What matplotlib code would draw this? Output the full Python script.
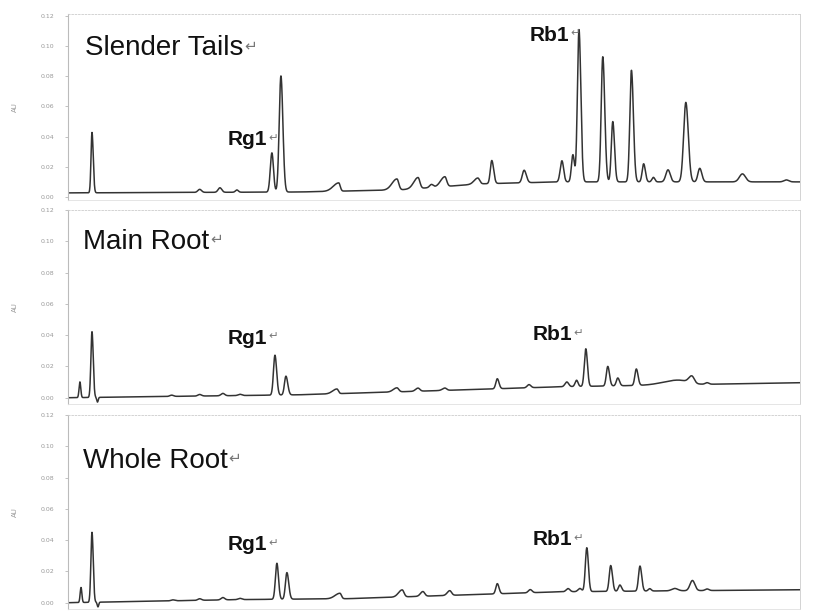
import numpy as np
import matplotlib.pyplot as plt

# ============================================================
#  HPLC chromatograms: Slender Tails / Main Root / Whole Root
# ============================================================

# retention time axis (min)
t = np.linspace(0, 60, 6000)

# --- Slender Tails: peak time, height above baseline, left/right sigma ---
st_rt = [1.97, 10.8, 12.46, 13.85, 16.72, 17.46, 22.2, 26.97, 28.7, 29.8, 30.9, 33.6, 34.75,
         37.4, 40.5, 41.4, 41.9, 43.85, 44.67, 46.2, 47.2, 48.0, 49.2, 50.66, 51.8, 55.3, 58.9]
st_h = [0.040, 0.002, 0.003, 0.0015, 0.026, 0.077, 0.0055, 0.0073, 0.0073, 0.002, 0.0065, 0.004, 0.0153,
        0.0083, 0.014, 0.018, 0.101, 0.083, 0.040, 0.074, 0.012, 0.003, 0.008, 0.0527, 0.009, 0.0053, 0.0013]
st_wl = [0.08, 0.15, 0.15, 0.12, 0.13, 0.14, 0.45, 0.40, 0.35, 0.15, 0.35, 0.30, 0.12,
         0.15, 0.14, 0.12, 0.13, 0.13, 0.12, 0.13, 0.12, 0.12, 0.18, 0.18, 0.15, 0.25, 0.20]
st_wr = [0.10, 0.15, 0.15, 0.12, 0.13, 0.16, 0.12, 0.15, 0.15, 0.15, 0.15, 0.15, 0.15,
         0.18, 0.14, 0.12, 0.15, 0.16, 0.14, 0.16, 0.14, 0.12, 0.18, 0.20, 0.17, 0.25, 0.20]
st_base_t = [0, 19, 27.2, 33.8, 40.3, 60]
st_base_v = [0.0027, 0.0033, 0.0047, 0.0087, 0.010, 0.010]

# --- Main Root ---
mr_rt = [0.98, 1.97, 2.42, 8.5, 10.8, 12.7, 14.1, 16.97, 17.87, 22.05, 26.97, 28.7, 30.9,
         35.2, 37.8, 40.9, 41.7, 42.46, 44.26, 45.08, 46.6, 50.0, 51.15, 52.4]
mr_h = [0.010, 0.042, -0.003, 0.0008, 0.001, 0.0015, 0.0008, 0.0255, 0.012, 0.003, 0.0026, 0.002, 0.0015,
        0.0064, 0.002, 0.003, 0.004, 0.024, 0.0125, 0.005, 0.0105, 0.003, 0.0045, 0.001]
mr_wl = [0.07, 0.09, 0.06, 0.15, 0.15, 0.15, 0.15, 0.12, 0.12, 0.35, 0.30, 0.20, 0.20,
         0.12, 0.15, 0.15, 0.12, 0.12, 0.12, 0.12, 0.12, 1.2, 0.25, 0.15]
mr_wr = [0.07, 0.10, 0.06, 0.15, 0.15, 0.15, 0.15, 0.14, 0.15, 0.12, 0.15, 0.15, 0.15,
         0.14, 0.15, 0.15, 0.12, 0.13, 0.14, 0.14, 0.14, 0.8, 0.20, 0.15]
mr_base_t = [0, 19, 27.2, 35.4, 40.3, 60]
mr_base_v = [0.0, 0.0019, 0.0038, 0.0058, 0.0070, 0.0096]

# --- Whole Root ---
wr_rt = [1.07, 1.97, 2.46, 8.6, 10.8, 12.7, 14.1, 17.13, 17.95, 22.3, 27.4, 29.1, 31.3,
         35.2, 37.9, 41.0, 41.97, 42.54, 44.5, 45.25, 46.9, 47.7, 49.75, 51.2, 52.4]
wr_h = [0.0096, 0.0447, -0.003, 0.0006, 0.001, 0.0015, 0.0008, 0.023, 0.017, 0.0035, 0.0045, 0.003, 0.003,
        0.0065, 0.002, 0.002, 0.002, 0.028, 0.0165, 0.004, 0.016, 0.0015, 0.0015, 0.0065, 0.001]
wr_wl = [0.07, 0.09, 0.06, 0.15, 0.15, 0.15, 0.15, 0.12, 0.12, 0.40, 0.30, 0.20, 0.20,
         0.12, 0.15, 0.15, 0.15, 0.12, 0.12, 0.12, 0.12, 0.12, 0.25, 0.20, 0.15]
wr_wr = [0.07, 0.10, 0.06, 0.15, 0.15, 0.15, 0.15, 0.13, 0.15, 0.12, 0.15, 0.15, 0.15,
         0.14, 0.15, 0.15, 0.15, 0.13, 0.14, 0.14, 0.14, 0.12, 0.25, 0.20, 0.15]
wr_base_t = [0, 14, 23, 40.3, 60]
wr_base_v = [0.0, 0.002, 0.0026, 0.007, 0.0083]

panel_names = ['Slender Tails', 'Main Root', 'Whole Root']
y_ticks = [0.00, 0.02, 0.04, 0.06, 0.08, 0.10, 0.12]


def chromatogram(rt, h, wl, wr, base_t, base_v):
    """Baseline drift plus split-gaussian peaks."""
    y = np.interp(t, base_t, base_v)
    for r, a, sl, sr in zip(rt, h, wl, wr):
        s = np.where(t < r, sl, sr)
        y = y + a * np.exp(-0.5 * ((t - r) / s) ** 2)
    return y


traces = [
    chromatogram(st_rt, st_h, st_wl, st_wr, st_base_t, st_base_v),
    chromatogram(mr_rt, mr_h, mr_wl, mr_wr, mr_base_t, mr_base_v),
    chromatogram(wr_rt, wr_h, wr_wl, wr_wr, wr_base_t, wr_base_v),
]

# layout (figure fractions) and label spots (axes fractions)
boxes = [[0.0835, 0.6727, 0.899, 0.3036],
         [0.0835, 0.3388, 0.899, 0.3175],
         [0.0835, 0.0033, 0.899, 0.3175]]
ylims = [(-0.002, 0.121), (-0.004, 0.12), (-0.004, 0.12)]
name_pos = [(0.023, 0.819), (0.0205, 0.835), (0.0205, 0.763)]
rg1_pos = [(0.2186, 0.3235), (0.2186, 0.340), (0.2186, 0.330)]
rb1_pos = [(0.631, 0.889), (0.635, 0.356), (0.635, 0.356)]

fig = plt.figure(figsize=(8.14, 6.11), dpi=100)


def label(ax, xy, txt, size, weight):
    tx = ax.text(xy[0], xy[1], txt, transform=ax.transAxes, fontsize=size,
                 fontweight=weight, family='Liberation Sans', va='center', ha='left', color='#111111')
    ax.annotate('\u21b5', xy=(1, 0.6), xycoords=tx, xytext=(0.5, 0), textcoords='offset points',
                va='center', ha='left', fontsize=size * 0.55, color='#777777', family='DejaVu Sans')


for i, ax_box in enumerate(boxes):
    ax = fig.add_axes(ax_box)
    ax.plot(t, traces[i], color='#333333', lw=1.1)
    ax.set_xlim(0, 60)
    ax.set_ylim(*ylims[i])
    ax.set_yticks(y_ticks)
    ax.set_yticklabels([f'{v:.2f}' for v in y_ticks], fontsize=4.5, color='#999999')
    ax.tick_params(axis='y', length=2, width=0.5, color='#aaaaaa', pad=8)
    ax.set_xticks([])
    ax.set_ylabel('AU', fontsize=5, color='#999999', labelpad=16)
    ax.spines['left'].set_color('#bbbbbb')
    ax.spines['left'].set_linewidth(0.8)
    ax.spines['top'].set_color('#cccccc')
    ax.spines['top'].set_linestyle((0, (2, 2)))
    ax.spines['top'].set_linewidth(0.6)
    ax.spines['right'].set_color('#cccccc')
    ax.spines['right'].set_linewidth(0.6)
    ax.spines['bottom'].set_color('#e0e0e0')
    ax.spines['bottom'].set_linewidth(0.6)

    label(ax, name_pos[i], panel_names[i], 20, 'normal')
    label(ax, rg1_pos[i], 'Rg1', 15, 'bold')
    label(ax, rb1_pos[i], 'Rb1', 15, 'bold')

fig.savefig('out.png', dpi=100)
